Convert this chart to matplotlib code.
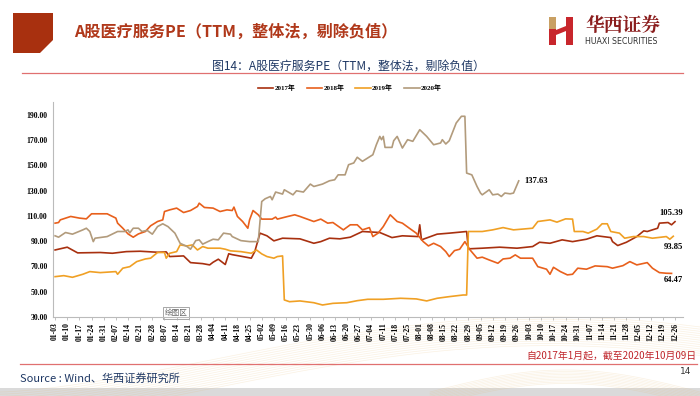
import numpy as np
import pandas as pd
import matplotlib
matplotlib.use("Agg")
import matplotlib.pyplot as plt
from matplotlib.patches import Polygon, Rectangle
from matplotlib.font_manager import FontProperties

plt.rcParams['font.family'] = ['Noto Sans CJK SC', 'DejaVu Sans']

# x = days since 01-03
x17 = [0, 7, 13, 26, 33, 41, 49, 59, 64, 66, 74, 78, 85, 89, 91, 94, 98, 100, 102, 108, 113, 115, 118, 122, 126, 131, 141, 149, 153, 158, 164, 170, 177, 187, 194, 200, 209, 210, 211, 220, 227, 237, 238, 246, 256, 266, 275, 279, 285, 292, 298, 306, 312, 320, 321, 324, 329, 335, 339, 341, 347, 348, 353, 355, 357]
y17 = [83, 85.2, 80.7, 81, 80.4, 81.7, 82, 81.2, 81.5, 77.8, 78.3, 73, 72.2, 71.2, 73.3, 75.7, 71.5, 80, 79.3, 77.8, 76.5, 81.7, 96.3, 94.2, 90.2, 92.3, 91.8, 88.3, 89.6, 92.3, 91.8, 93.1, 97.6, 96.8, 92.8, 94.2, 93.6, 102.9, 91, 95.5, 96.3, 97.6, 83.9, 84.4, 85.2, 84.4, 85.7, 89.1, 88.3, 91, 89.6, 91.5, 94.2, 92.8, 89.6, 86.5, 89.1, 93.6, 98.1, 97.6, 100.2, 104.2, 104.7, 102.9, 105.39]

x18 = [0, 2, 3, 9, 14, 18, 21, 30, 32, 35, 36, 39, 42, 45, 48, 52, 55, 59, 62, 63, 66, 70, 74, 78, 82, 83, 86, 91, 95, 99, 102, 103, 105, 108, 111, 112, 114, 117, 119, 125, 127, 128, 134, 138, 141, 149, 153, 157, 160, 166, 170, 174, 177, 181, 183, 186, 189, 193, 197, 200, 204, 208, 212, 215, 218, 222, 225, 227, 230, 233, 236, 239, 243, 246, 250, 255, 258, 262, 265, 268, 275, 278, 283, 285, 287, 291, 295, 298, 301, 306, 311, 318, 321, 327, 331, 335, 341, 344, 348, 352, 355]
y18 = [104.2, 104.7, 106.8, 109.5, 108.2, 107.6, 111.6, 111.6, 110.2, 108.2, 104.2, 100.2, 95.7, 93.1, 95.7, 97.6, 102.1, 105.5, 106.8, 113.4, 114.7, 116.1, 112.6, 114.2, 117.4, 120, 116.6, 116.1, 113.4, 114.7, 114.2, 116.9, 109.5, 105.5, 100.2, 106.8, 114.2, 110.8, 107.4, 107.4, 109, 107.4, 109.5, 110.8, 109.5, 105.5, 107.4, 104.2, 104.7, 98.9, 102.9, 102.9, 98.9, 100.7, 93.6, 96.3, 101.5, 110.8, 105.5, 104.2, 100.2, 96.3, 89.6, 86.2, 88.3, 85.7, 81.7, 77.8, 82.5, 83.6, 89.6, 83, 76.5, 77.3, 75.1, 72.5, 75.9, 76.5, 79.1, 76.5, 76.5, 69.8, 67.8, 63.8, 69.3, 65.9, 63.3, 63.8, 68.6, 67.8, 70.4, 69.8, 68.6, 70.6, 73.8, 71.2, 73, 68.6, 65.1, 64.6, 64.47]

x19 = [0, 5, 10, 16, 20, 26, 35, 36, 39, 43, 47, 52, 55, 59, 63, 64, 66, 70, 72, 76, 79, 82, 85, 88, 95, 98, 101, 107, 113, 116, 119, 122, 126, 128, 131, 132, 135, 141, 149, 154, 160, 168, 174, 180, 189, 199, 208, 214, 220, 227, 235, 237, 238, 246, 252, 258, 264, 275, 278, 285, 289, 294, 298, 299, 304, 307, 312, 315, 318, 320, 325, 328, 333, 339, 344, 352, 354, 356]
y19 = [61.9, 62.7, 61.4, 63.8, 65.9, 65.1, 65.9, 63.8, 68.6, 69.8, 73.8, 75.9, 76.5, 81, 81, 76.5, 80.4, 81.7, 87, 86.2, 87, 83, 85.7, 84.4, 84.4, 83.6, 82.3, 81.7, 80.4, 83, 79.9, 77.8, 76.5, 77.8, 78.3, 43.5, 42.1, 42.7, 41.3, 39.5, 40.8, 41.3, 42.9, 44, 44, 44.8, 44.3, 42.7, 44.8, 46.1, 47.4, 47.4, 97.6, 97.6, 98.9, 100.7, 98.9, 100.2, 105.5, 106.8, 105, 107.6, 107.4, 97.6, 97.6, 96.3, 99.5, 103.7, 103.7, 97.6, 96.3, 92.3, 93.6, 93.6, 92.3, 93.6, 91.5, 93.85]

x20 = [0, 2, 6, 10, 16, 18, 20, 22, 23, 30, 36, 40, 42, 43, 45, 48, 50, 53, 56, 59, 62, 65, 69, 72, 76, 78, 81, 83, 85, 88, 91, 94, 97, 101, 102, 107, 112, 117, 119, 121, 124, 125, 127, 131, 132, 137, 139, 143, 147, 149, 154, 158, 161, 163, 167, 169, 172, 174, 177, 180, 183, 185, 187, 188, 189, 190, 194, 195, 197, 200, 203, 206, 210, 214, 218, 222, 223, 225, 227, 231, 234, 236, 237, 240, 243, 245, 246, 250, 252, 255, 257, 259, 262, 264, 267]
y20 = [94.2, 93.1, 96.8, 95.5, 98.9, 100.2, 97.6, 89.6, 92.3, 93.6, 97.6, 97.6, 98.9, 96.5, 100.2, 100.2, 97.6, 98.5, 95.5, 101.5, 103.7, 101.5, 96.3, 88.3, 85.7, 83.6, 90.4, 91, 87.6, 89.6, 91.5, 91, 96.3, 95.5, 93.6, 90.4, 89.6, 89.6, 121.3, 123.5, 125.3, 122.7, 128.8, 127.2, 130.6, 126.6, 129.8, 128.8, 135.1, 133.2, 135.1, 137.7, 138.5, 142.4, 142.4, 150.4, 151.8, 156.3, 153.1, 155.7, 158.3, 166.2, 172.8, 170.2, 172.8, 164.1, 164.1, 169.4, 172.8, 163.6, 170.2, 168.9, 178.1, 172.8, 166.2, 167.6, 170.2, 166.8, 169.4, 183.4, 188.7, 188.7, 143.8, 142.4, 133.2, 128, 126.6, 130.6, 126.6, 127.2, 125.3, 128, 127.4, 128, 137.63]

labels = ['2017年', '2018年', '2019年', '2020年']
colors = ['#A8300F', '#E8601C', '#F0A024', '#B29B7C']
tick_days = np.arange(0, 358, 7)
tick_labels = pd.date_range('2017-01-03', periods=len(tick_days), freq='7D').strftime('%m-%d')

fig = plt.figure(figsize=(7, 3.96), dpi=100)

# background / slide decoration in pixel coords
bg = fig.add_axes([0, 0, 1, 1], zorder=0)
bg.set_xlim(0, 700)
bg.set_ylim(396, 0)
bg.axis('off')

# golden wave at the bottom
t = np.linspace(0, 700, 200)
for k in range(14):
    top = 392 - 75 * np.sin(np.pi * t / 1100) ** 1.5 + k * 2.2
    bg.plot(t, top, color='#E8B970', lw=0.5, alpha=0.2)
t2 = np.linspace(430, 700, 100)
for k in range(10):
    bg.plot(t2, 392 - 22 * np.sin(np.pi * (t2 - 430) / 270) + k * 1.5, color='#E8B970', lw=0.5, alpha=0.2)
bg.add_patch(Rectangle((0, 388), 700, 8, color='#DADADA', lw=0))

bg.add_patch(Polygon([[13, 13], [53, 13], [53, 40], [40, 53], [13, 53]], closed=True, color='#A8300F', lw=0))
bg.text(74, 32, 'A股医疗服务PE（TTM，整体法，剔除负值）', fontsize=11.6, fontweight='bold',
        color='#B0381A', va='center', ha='left')

# logo
bg.add_patch(Rectangle((549, 17), 7, 12, color='#C9A063', lw=0))
bg.add_patch(Rectangle((549, 29), 7, 16, color='#C8262C', lw=0))
bg.add_patch(Rectangle((566, 17), 7, 28, color='#C8262C', lw=0))
bg.add_patch(Polygon([[556, 30], [566, 26], [566, 31], [556, 35]], closed=True, color='#C8262C', lw=0))
bg.text(585, 26, '华西证券', fontsize=13.5, fontweight='bold', color='#8B1E1E', va='center', ha='left',
        family=['Noto Serif CJK SC', 'Noto Sans CJK SC'])
bg.text(585, 41, 'HUAXI SECURITIES', fontsize=5.7, color='#333333', va='center', ha='left', family='DejaVu Sans')

bg.text(348, 66, '图14：A股医疗服务PE（TTM，整体法，剔除负值）', fontsize=8.6, color='#1F3864',
        ha='center', va='center')
bg.plot([22, 683], [73, 73], color='#E07070', lw=0.9)

bg.text(697, 356, '自2017年1月起，截至2020年10月09日', fontsize=7.1, color='#C0272D', ha='right', va='center')
bg.plot([20, 697], [364, 364], color='#E07070', lw=0.9)
bg.text(691, 372, '14', fontsize=6.5, color='#333333', ha='right', va='center', family='DejaVu Sans')
bg.text(20, 378, 'Source : Wind、华西证券研究所', fontsize=8, color='#1F3864', ha='left', va='center',
        style='italic')

# chart
ax = fig.add_axes([53 / 700, 1 - 317 / 396, 630 / 700, 215 / 396], zorder=1)
ax.set_facecolor('none')
series = [(x17, y17), (x18, y18), (x19, y19), (x20, y20)]
handles = []
for (xs, ys), lab, c in zip(series, labels, colors):
    h, = ax.plot(xs, ys, color=c, lw=1.2, label=lab)
    handles.append(h)

ax.set_xlim(-1.2, 361.6)
ax.set_ylim(30, 200)
ax.set_yticks(np.arange(30, 191, 20))
ax.set_yticklabels([f'{v:.2f}' for v in np.arange(30, 191, 20)])
ax.set_xticks(tick_days)
ax.set_xticklabels(tick_labels, rotation=90)
tick_font = FontProperties(family='Liberation Serif', weight='bold', size=5.6)
for lab in ax.get_xticklabels() + ax.get_yticklabels():
    lab.set_fontproperties(tick_font)
ax.tick_params(axis='y', length=0, pad=4)
ax.tick_params(axis='x', length=2, width=0.5, color='#AAAAAA', pad=2)
for s in ['top', 'right']:
    ax.spines[s].set_visible(False)
for s in ['left', 'bottom']:
    ax.spines[s].set_color('#BBBBBB')
    ax.spines[s].set_linewidth(0.8)

ann_font = FontProperties(family='Liberation Serif', weight='bold', size=6.2)
ax.annotate(f'{y20[-1]:.2f}', (x20[-1], y20[-1]), xytext=(4, 0), textcoords='offset points',
            va='center', ha='left', fontproperties=ann_font)
ax.annotate(f'{y17[-1]:.2f}', (x17[-1], y17[-1]), xytext=(-3, 6), textcoords='offset points',
            va='center', ha='center', fontproperties=ann_font)
ax.annotate(f'{y19[-1]:.2f}', (x19[-1], y19[-1]), xytext=(0, -8), textcoords='offset points',
            va='center', ha='center', fontproperties=ann_font)
ax.annotate(f'{y18[-1]:.2f}', (x18[-1], y18[-1]), xytext=(1, -5), textcoords='offset points',
            va='center', ha='center', fontproperties=ann_font)

leg_font = FontProperties(family=['Liberation Serif', 'Noto Sans CJK SC'], weight='bold', size=5)
fig.legend(handles, labels, loc='center', bbox_to_anchor=(0.5, 1 - 88 / 396), ncol=4, frameon=False,
           prop=leg_font, handlelength=2.2, handletextpad=0.2, columnspacing=1.6)

# "绘图区" hint box
bg.text(176, 313, '绘图区', fontsize=5.5, color='#666666', ha='center', va='center', zorder=5,
        bbox=dict(boxstyle='square,pad=0.25', fc='white', ec='#999999', lw=0.6))

fig.savefig('out.png', dpi=100)
